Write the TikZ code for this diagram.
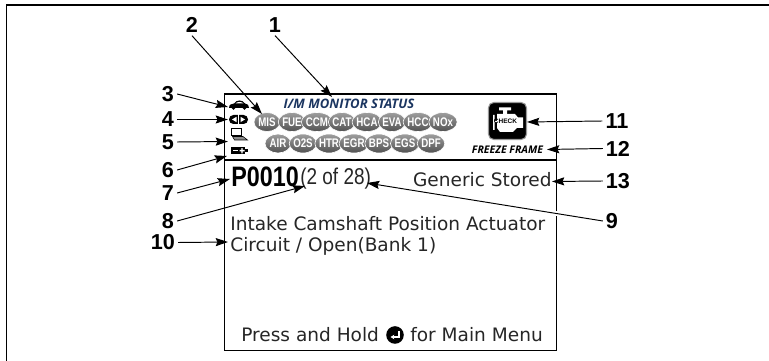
\documentclass[tikz,border=0pt]{standalone}
\usepackage{fontspec}
\setmainfont{Liberation Sans}
\newfontfamily\screenfont{DejaVu Sans}
\newfontfamily\codefont[FakeStretch=0.83]{Liberation Sans}
\newfontfamily\pillfont[FakeStretch=0.78]{Liberation Sans}
\newfontfamily\statusfont{Open Sans}
\usetikzlibrary{arrows.meta, shapes.geometric}
\definecolor{navy}{HTML}{1B3560}
\tikzset{
	number/.style={font=\fontsize{12.3}{14}\selectfont\bfseries, inner sep=1.6pt},
	pointer/.style={-{Stealth[length=7pt,width=4.6pt,inset=1pt]}, line width=0.55pt},
	pill/.style={ellipse, top color=black!38, bottom color=black!68, draw=white, line width=0.35pt, minimum width=26*0.02cm, minimum height=19*0.02cm, inner sep=0pt, text=white, font=\pillfont\fontsize{7.1}{8}\selectfont\bfseries},
	screentext/.style={font=\screenfont\fontsize{10.55}{12}\selectfont, inner sep=0pt, text=black!85}
}
\begin{document}
\begin{tikzpicture}[x=0.02cm,y=-0.02cm]
	\useasboundingbox (0,0) rectangle (769,361);
	% outer frame
	\draw[line width=1.1pt] (769,5) -- (6.5,5) -- (6.5,361);
	% screen
	\draw[line width=0.8pt] (224.5,94) rectangle (556.5,350.5);
	\draw[line width=1.1pt] (224.5,160) -- (556.5,160);
	% monitor row
	\node(status) [font=\statusfont\fontsize{7.45}{8}\selectfont\bfseries\itshape, text=navy, inner sep=0pt] at (349,104) {I/M MONITOR STATUS};
	\foreach \name/\px in {MIS/267,FUE/292,CCM/317,CAT/342,HCA/367,EVA/392,HCC/418,NOx/443}
		\node(\name) [pill] at (\px,122) {\name};
	\foreach \name/\px in {AIR/278,O2S/303,HTR/329,EGR/354,BPS/379,EGS/405,DPF/431}
		\node(\name) [pill] at (\px,143.5) {\name};
	% car
	\fill (229,108) .. controls (229,104) and (232,104) .. (234,103.5) .. controls (236,99.5) and (243,99.5) .. (245,103.5) .. controls (248,104) and (249,105) .. (249,108) -- cycle;
	\fill[white] (235.5,103.5) .. controls (237,101.5) and (242,101.5) .. (243.5,103.5) -- cycle;
	\fill (233.5,108) circle (1.8) (244.5,108) circle (1.8);
	% arrows icon
	\fill[rounded corners=2.5pt] (229,115) rectangle (248,124);
	\fill[white] (237.8,114) rectangle (239.2,125);
	\fill[white] (232,119.5) -- (236.5,116.8) -- (236.5,122.2) -- cycle (245,119.5) -- (240.5,116.8) -- (240.5,122.2) -- cycle;
	% computer
	\draw[line width=1pt] (231.5,128.5) rectangle (241.5,135.5);
	\draw[line width=0.3pt, fill=black!45] (232.5,136.5) -- (243,136.5) -- (247.5,140) -- (234.5,140) -- cycle;
	% battery
	\fill (230.5,147) rectangle (244.5,154.5);
	\fill (244.5,149) rectangle (248,152.5);
	\fill[white] (232.5,150) rectangle (238,151.5);
	\fill[white] (239.5,150) rectangle (244.5,151.5) (241.3,148.2) rectangle (242.7,153.3);
	% check engine
	\draw[line width=0.6pt, draw=black!40, fill=black, rounded corners=3pt] (488.5,102.5) rectangle (526.5,139.5);
	\fill[white] (499,107.5) rectangle (511,110.5) (503,110.5) rectangle (507,114);
	\fill[white] (497,114) -- (515,114) -- (518,117.5) -- (523,117.5) -- (523,128) -- (517,128) -- (513,132) -- (500,132) -- (497,128) -- cycle;
	\fill[white] (493,115) rectangle (494.5,130) (494.5,121) rectangle (497,122.5);
	\node(check) [font=\fontsize{3.7}{4}\selectfont\bfseries, inner sep=0pt] at (505.5,121) {CHECK};
	\node(freeze) [font=\statusfont\fontsize{6}{7}\selectfont\bfseries\itshape, inner sep=0pt] at (507.5,150) {FREEZE FRAME};
	% readout
	\node(code) [font=\codefont\fontsize{16}{18}\selectfont\bfseries, inner sep=0pt, anchor=base west] at (231,187) {P0010};
	\node(count) [font=\codefont\fontsize{13}{15}\selectfont, inner sep=0pt, anchor=base west, text=black!85] at (300,185) {(2 of 28)};
	\node(stored) [screentext, anchor=base east] at (552,187) {Generic Stored};
	\node(line1) [screentext, anchor=base west] at (230,231) {Intake Camshaft Position Actuator};
	\node(line2) [screentext, anchor=base west] at (230,252) {Circuit / Open(Bank 1)};
	\node(press) [screentext, anchor=base west] at (241,342) {Press and Hold};
	\node(menu) [screentext, anchor=base west] at (410,342) {for Main Menu};
	\fill (395,335) circle (8.8);
	\draw[white, line width=0.7pt, -{Stealth[length=2.2pt,width=2.6pt]}] (399,331) -- (399,337) -- (390.5,337);
	% numbers
	\node(n1) [number] at (275,25) {1};
	\node(n2) [number] at (192,25) {2};
	\node(n3) [number] at (168,94) {3};
	\node(n4) [number] at (168,119.5) {4};
	\node(n5) [number] at (168,142) {5};
	\node(n6) [number] at (168,170) {6};
	\node(n7) [number] at (168,193) {7};
	\node(n8) [number] at (168,221) {8};
	\node(n9) [number] at (612,221) {9};
	\node(n10) [number] at (163,242.5) {10};
	\node(n11) [number] at (617,121) {11};
	\node(n12) [number] at (618,148.5) {12};
	\node(n13) [number] at (618,181) {13};
	% arrow ends
	\coordinate(t1) at (332,97);
	\coordinate(t2) at (262,114);
	\coordinate(t3) at (228,107);
	\coordinate(t4) at (228,119.5);
	\coordinate(t5) at (228,141.5);
	\coordinate(t6) at (227,156);
	\coordinate(t7) at (230,179);
	\coordinate(t8) at (305,186);
	\coordinate(t9) at (367,183);
	\coordinate(t10) at (228,242);
	\coordinate(t11) at (527,122);
	\coordinate(t12) at (547,149.5);
	\coordinate(t13) at (552,181.5);
	\draw[white, line width=1.5pt] (556.5,211) -- (556.5,216.5);
	\draw[pointer] (n1.south) -- (t1);
	\draw[pointer] (n2.south) -- (t2);
	\foreach \i in {3,...,8,10}
		\draw[pointer] (n\i.east) -- (t\i);
	\foreach \i in {9,11,12,13}
		\draw[pointer] (n\i.west) -- (t\i);
\end{tikzpicture}
\end{document}
